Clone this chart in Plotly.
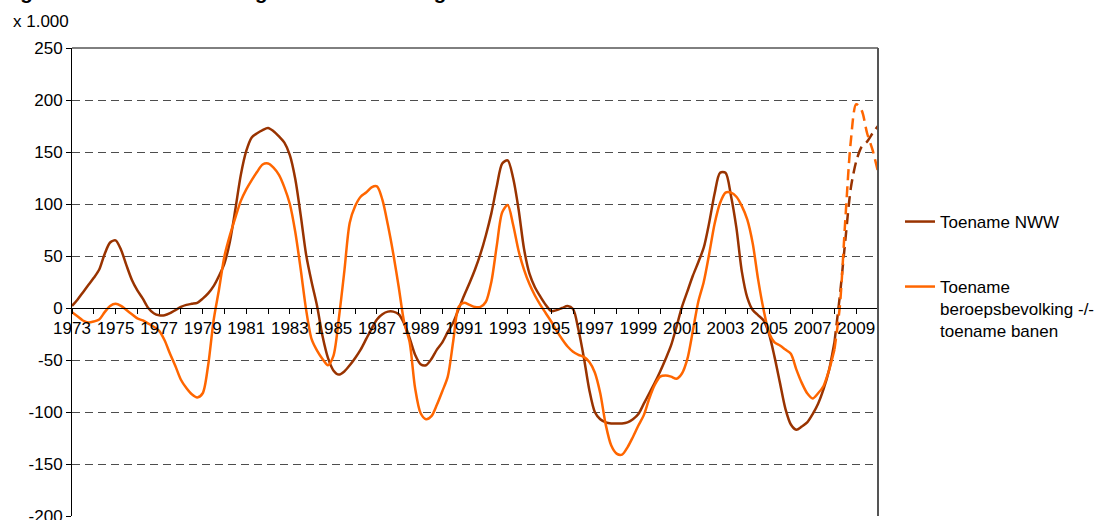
import plotly.graph_objects as go

# ---- data (quarterly, x 1.000) ----
start_year = 1973
nww = [
    2, 8, 15, 22,          # 1973
    29, 37, 52, 63,        # 1974
    65, 56, 41, 27,        # 1975
    17, 9, 0, -5,          # 1976
    -7, -7, -5, -2,        # 1977
    1, 3, 4, 5,            # 1978
    9, 14, 21, 31,         # 1979
    43, 64, 95, 128,       # 1980
    151, 164, 168, 171,    # 1981
    173, 170, 165, 159,    # 1982
    147, 124, 89, 51,      # 1983
    25, 2, -27, -48,       # 1984
    -60, -64, -61, -55,    # 1985
    -48, -40, -30, -20,    # 1986
    -11, -6, -3.5, -3.5,   # 1987
    -6, -15, -29, -45,     # 1988
    -54, -55, -49, -40,    # 1989
    -33, -23, -14, -1,     # 1990
    12, 24, 37, 52,        # 1991
    70, 91, 117, 139,      # 1992
    142, 125, 95, 57,      # 1993
    33, 20, 11, 3,         # 1994
    -3, -2, 0, 2,          # 1995
    -1, -21, -48, -79,     # 1996
    -100, -107, -110, -111,  # 1997
    -111, -111, -110, -107,  # 1998
    -102, -92, -82, -72,   # 1999
    -61, -49, -36, -18,    # 2000
    1, 16, 31, 44,         # 2001
    58, 82, 110, 130,      # 2002
    130, 108, 77, 35,      # 2003
    10, -2, -7, -12,       # 2004
    -25, -47, -72, -97,    # 2005
    -112, -117, -114, -110,  # 2006
    -102, -92, -78, -60,   # 2007
    -33, 12, 65, 115,      # 2008
    141, 155, 160, 168,    # 2009
    175,                   # 2010
]
saldo = [
    -4, -8, -12, -14,      # 1973
    -13, -11, -4, 2,       # 1974
    4, 2, -2, -6,          # 1975
    -10, -12, -15, -18,    # 1976
    -22, -31, -44, -56,    # 1977
    -69, -77, -83, -86,    # 1978
    -82, -55, -12, 18,     # 1979
    50, 70, 87, 103,       # 1980
    114, 123, 131, 138,    # 1981
    139, 135, 128, 116,    # 1982
    100, 73, 37, -2,       # 1983
    -30, -41, -49, -55,    # 1984
    -46, -10, 35, 82,      # 1985
    98, 107, 111, 116,     # 1986
    117, 104, 80, 52,      # 1987
    20, -14, -33, -77,     # 1988
    -101, -107, -104, -93,  # 1989
    -80, -66, -32, 1,      # 1990
    5, 3, 1, 1,            # 1991
    6, 25, 60, 92,         # 1992
    99, 80, 55, 37,        # 1993
    23, 12, 3, -5,         # 1994
    -13, -22, -30, -37,    # 1995
    -42, -45, -47, -52,    # 1996
    -62, -82, -112, -132,  # 1997
    -140, -141, -134, -124,  # 1998
    -113, -103, -87, -74,  # 1999
    -66, -65, -66, -68,    # 2000
    -63, -49, -22, 6,      # 2001
    25, 52, 81, 101,       # 2002
    111, 111, 107, 98,     # 2003
    85, 62, 27, -2,        # 2004
    -24, -33, -36, -40,    # 2005
    -44, -59, -72, -82,    # 2006
    -87, -82, -75, -60,    # 2007
    -40, 2, 85, 160,       # 2008
    196, 190, 168, 152,    # 2009
    131,                   # 2010
]
periods = [start_year + i / 4 for i in range(len(nww))]
forecast_from = 2008.0
year_ticks = list(range(1973, 2010, 2))
year_labels = [str(y) for y in year_ticks]
y_ticks = list(range(-200, 251, 50))
y_labels = [str(v) for v in y_ticks]

name_nww = "Toename NWW"
name_saldo = "Toename<br>beroepsbevolking -/-<br>toename banen"

BROWN = "#993300"
ORANGE = "#FF6600"
FONT = "Arial, Liberation Sans, sans-serif"

k = periods.index(forecast_from)

fig = go.Figure()
fig.add_trace(go.Scatter(x=periods[:k + 1], y=nww[:k + 1], mode="lines", name=name_nww,
                         line=dict(color=BROWN, width=2.5, shape="spline", smoothing=0.8),
                         legend="legend"))
fig.add_trace(go.Scatter(x=periods[:k + 1], y=saldo[:k + 1], mode="lines", name=name_saldo,
                         line=dict(color=ORANGE, width=2.5, shape="spline", smoothing=0.8),
                         legend="legend2"))
fig.add_trace(go.Scatter(x=periods[k:], y=nww[k:], mode="lines", showlegend=False,
                         line=dict(color=BROWN, width=2.5, shape="spline", smoothing=0.8,
                                   dash="11px,6px")))
fig.add_trace(go.Scatter(x=periods[k:], y=saldo[k:], mode="lines", showlegend=False,
                         line=dict(color=ORANGE, width=2.5, shape="spline", smoothing=0.8,
                                   dash="11px,6px")))

fig.update_layout(
    width=1096, height=520,
    margin=dict(l=72, r=218, t=48, b=4, autoexpand=False),
    paper_bgcolor="white", plot_bgcolor="white",
    font=dict(family=FONT, size=17, color="black"),
    xaxis=dict(range=[1973, 2010], anchor="free", position=200 / 450,
               tickvals=year_ticks, ticktext=year_labels,
               showgrid=False, zeroline=False, automargin=False,
               showline=True, linecolor="black", linewidth=1,
               ticks="outside", ticklen=5, tickcolor="black", tickwidth=1,
               minor=dict(dtick=1, tick0=1973, ticks="outside", ticklen=5,
                          tickcolor="black", tickwidth=1, showgrid=False),
               tickfont=dict(size=17)),
    yaxis=dict(range=[-200, 250], tickvals=y_ticks, ticktext=y_labels,
               showgrid=True, gridcolor="#4d4d4d", gridwidth=1, griddash="8px,5px",
               zeroline=False, showline=True, linecolor="black", linewidth=1,
               automargin=False, ticklabeloverflow="allow",
               ticks="outside", ticklen=5, tickcolor="black",
               tickfont=dict(size=17)),
    legend=dict(xref="container", yref="container", x=900 / 1096, y=1 - 222 / 520,
                xanchor="left", yanchor="middle",
                font=dict(size=17), bgcolor="rgba(0,0,0,0)", borderwidth=0),
    legend2=dict(xref="container", yref="container", x=900 / 1096, y=1 - 309 / 520,
                 xanchor="left", yanchor="middle", valign="top",
                 font=dict(size=17), bgcolor="rgba(0,0,0,0)", borderwidth=0),
    showlegend=True,
)

# plot-area border: black top, grey right
fig.add_shape(type="line", xref="paper", yref="paper", x0=0, x1=1, y0=1, y1=1,
              line=dict(color="black", width=1))
fig.add_shape(type="line", xref="paper", yref="paper", x0=1, x1=1, y0=0, y1=1,
              line=dict(color="#555555", width=2))

fig.add_annotation(text="x 1.000", xref="paper", yref="paper", x=-0.0754, y=1,
                   xanchor="left", yanchor="middle", yshift=27, showarrow=False,
                   font=dict(size=17))
fig.add_annotation(text="<b>Figuur 2.1  De ontwikkeling NWW en de vraag naar arbeid</b>",
                   xref="paper", yref="paper", x=-0.0893, y=1, xanchor="left",
                   yanchor="bottom", yshift=43, showarrow=False,
                   font=dict(size=20.5))

fig.write_html("out.html", config={"displayModeBar": False},
               post_script="document.body.style.margin='0px';")
